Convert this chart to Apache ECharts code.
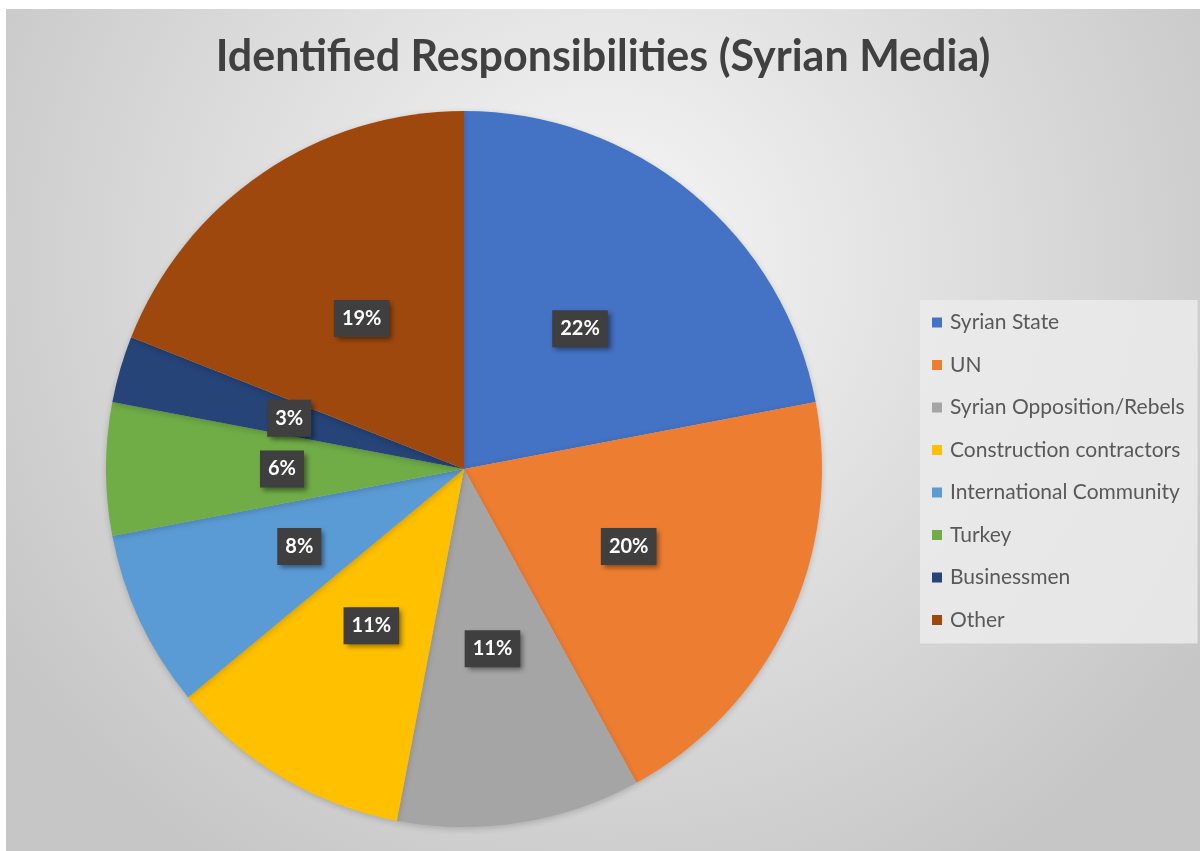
<!DOCTYPE html>
<html>
<head>
<meta charset="utf-8">
<script src="https://cdn.jsdelivr.net/npm/echarts@6/dist/echarts.min.js"></script>
<style>
  html, body { margin: 0; padding: 0; background: #ffffff; }
  #chart { position: absolute; left: 6px; top: 9px; width: 1194px; height: 842px; }
</style>
</head>
<body>
<div id="chart"></div>
<script>
// Who is held responsible, share of mentions (percent)
const categories = [
  'Syrian State',
  'UN',
  'Syrian Opposition/Rebels',
  'Construction contractors',
  'International Community',
  'Turkey',
  'Businessmen',
  'Other'
];
const shares = [22, 20, 11, 11, 8, 6, 3, 19];
const sliceColors = ['#4472C4', '#ED7D31', '#A5A5A5', '#FFC000', '#5B9BD5', '#70AD47', '#264478', '#9E480E'];

const chart = echarts.init(document.getElementById('chart'), null, { renderer: 'canvas' });

const pieData = categories.map((name, i) => ({
  name: name,
  value: shares[i],
  itemStyle: { color: sliceColors[i] }
}));

chart.setOption({
  backgroundColor: {
    type: 'radial', x: 0.5, y: 0.3, r: 0.85,
    colorStops: [
      { offset: 0, color: '#f7f7f7' },
      { offset: 1, color: '#c6c6c6' }
    ]
  },
  animation: false,
  title: {
    text: 'Identified Responsibilities (Syrian Media)',
    left: 'center',
    top: 22,
    textStyle: {
      fontFamily: 'Lato',
      fontWeight: 'bold',
      fontSize: 43,
      color: '#404040'
    }
  },
  legend: {
    orient: 'vertical',
    left: 914,
    top: 291,
    padding: [12, 13, 13, 12],
    backgroundColor: 'rgba(235,235,235,0.85)',
    itemWidth: 10,
    itemHeight: 10,
    itemGap: 21.5,
    icon: 'rect',
    textStyle: {
      fontFamily: 'Lato',
      fontSize: 21,
      color: '#595959',
      padding: [0, 0, 0, 3]
    },
    data: categories
  },
  series: [{
    type: 'pie',
    center: [458, 460],
    radius: 358,
    startAngle: 90,
    clockwise: true,
    data: pieData,
    itemStyle: {
      shadowBlur: 6,
      shadowColor: 'rgba(0,0,0,0.18)',
      shadowOffsetY: 2
    },
    label: {
      show: true,
      position: 'inside',
      formatter: '{c}%',
      fontFamily: 'Lato',
      fontWeight: 'bold',
      fontSize: 20,
      color: '#ffffff',
      backgroundColor: '#3f3f3f',
      padding: [9, 8, 8, 8],
      shadowBlur: 5,
      shadowColor: 'rgba(0,0,0,0.45)',
      shadowOffsetX: 3,
      shadowOffsetY: 3
    },
    labelLine: { show: false },
    emphasis: { disabled: true }
  }]
});
</script>
</body>
</html>
